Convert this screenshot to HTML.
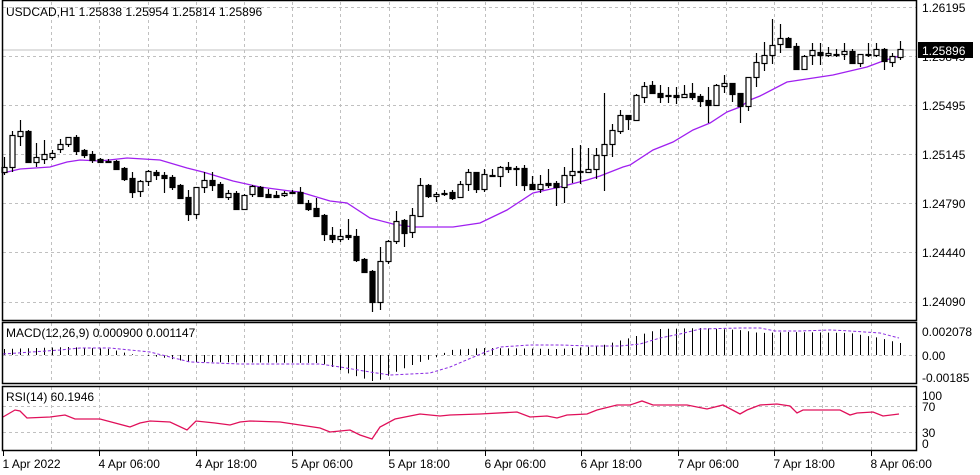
<!DOCTYPE html>
<html><head><meta charset="utf-8"><style>
html,body{margin:0;padding:0;background:#fff;width:980px;height:475px;overflow:hidden}
svg{display:block;font-family:"Liberation Sans",sans-serif}
</style></head><body>
<svg id="s" width="980" height="475" xmlns="http://www.w3.org/2000/svg">
<rect width="980" height="475" fill="#fff"/>
<g id="grid" stroke="#c0c0c0" stroke-dasharray="3,3" stroke-width="1"></g>
<line x1="3" y1="50" x2="916" y2="50" stroke="#c0c0c0"/>
<g id="hist" stroke="#000" stroke-width="1"></g>
<polyline id="sig" fill="none" stroke="#8a2be2" stroke-width="1" stroke-dasharray="3,2"/>
<polyline id="rsi" fill="none" stroke="#e0105a" stroke-width="1.3"/>
<polyline id="ma" fill="none" stroke="#a020f0" stroke-width="1.3"/>
<g id="c"></g>
<g fill="none" stroke="#000" stroke-width="1.5">
<rect x="2.5" y="0.5" width="914" height="320"/>
<rect x="2.5" y="322.5" width="914" height="61"/>
<rect x="2.5" y="386.5" width="914" height="64"/>
</g>
<g id="ticks" stroke="#000"></g>
<text x="6" y="16" font-size="12">USDCAD,H1  1.25838 1.25954 1.25814 1.25896</text>
<text x="6" y="337" font-size="12">MACD(12,26,9) 0.000900 0.001147</text>
<text x="6" y="401" font-size="12">RSI(14) 60.1946</text>
<g font-size="12" fill="#000">
<text x="922" y="12">1.26195</text>
<text x="922" y="61">1.25845</text>
<text x="922" y="110">1.25495</text>
<text x="922" y="159">1.25145</text>
<text x="922" y="208">1.24790</text>
<text x="922" y="257">1.24440</text>
<text x="922" y="306">1.24090</text>
<text x="922" y="336">0.002078</text>
<text x="922" y="360">0.00</text>
<text x="922" y="382">-0.00185</text>
<text x="922" y="400">100</text>
<text x="922" y="411">70</text>
<text x="922" y="437">30</text>
<text x="922" y="448">0</text>
</g>
<rect x="918" y="42" width="55" height="16" fill="#000"/>
<text x="922" y="55" font-size="12" fill="#fff">1.25896</text>
<g font-size="12" fill="#000" id="tl"></g>
</svg>
<script>
var NS="http://www.w3.org/2000/svg";
function el(p,t,a,txt){var e=document.createElementNS(NS,t);for(var k in a)e.setAttribute(k,a[k]);if(txt)e.textContent=txt;p.appendChild(e);return e;}
var g=document.getElementById('grid');
for(var k=1;k<=18;k++){var x=Math.round(3+48.2*k)+0.5;
 el(g,'line',{x1:x,y1:2,x2:x,y2:320});el(g,'line',{x1:x,y1:323,x2:x,y2:383});el(g,'line',{x1:x,y1:387,x2:x,y2:450});}
[7,56,105,154,203,252,302].forEach(function(y){el(g,'line',{x1:3,y1:y+0.5,x2:916,y2:y+0.5});});
[355,406,432].forEach(function(y){el(g,'line',{x1:3,y1:y+0.5,x2:916,y2:y+0.5});});
var tk=document.getElementById('ticks'),tl=document.getElementById('tl');
var labs=["1 Apr 2022","4 Apr 06:00","4 Apr 18:00","5 Apr 06:00","5 Apr 18:00","6 Apr 06:00","6 Apr 18:00","7 Apr 06:00","7 Apr 18:00","8 Apr 06:00"];
for(var i=0;i<10;i++){var x=Math.round(3+96.4*i)+0.5;el(tk,'line',{x1:x,y1:451,x2:x,y2:456});el(tl,'text',{x:x-1,y:468},labs[i]);}
function interp(pts,x){if(x<=pts[0][0])return pts[0][1];for(var i=1;i<pts.length;i++){if(x<=pts[i][0]){var a=pts[i-1],b=pts[i];return a[1]+(b[1]-a[1])*(x-a[0])/(b[0]-a[0]);}}return pts[pts.length-1][1];}
function pl(id,pts){document.getElementById(id).setAttribute('points',pts.map(function(p){return p[0]+','+p[1]}).join(' '));}
pl('ma',[[3,173],[20,169],[50,167],[67,162],[80,160],[100,161],[127,158],[160,160],[187,168],[203,172],[233,181],[260,187],[290,191],[300,192],[330,201],[347,203],[370,218],[393,224],[413,227],[453,227],[480,223],[507,210],[533,193],[560,187],[587,180],[600,176],[623,167],[630,165],[653,150],[673,142],[693,130],[710,123],[727,112],[740,107],[750,100],[760,96],[787,82],[833,75],[867,67],[883,61],[899,56]]);
pl('rsi',[[3,417],[15,410],[20,411],[27,418],[50,417],[65,415],[75,419],[100,419],[130,427],[140,423],[150,421],[170,422],[187,430],[196,421],[215,423],[230,425],[240,422],[250,421],[280,422],[300,425],[320,428],[330,432],[340,431],[350,430],[360,435],[372,439],[380,427],[395,419],[400,418],[420,414],[440,416],[450,415],[480,414],[517,412],[530,417],[547,416],[557,418],[567,415],[587,414],[597,410],[617,405],[630,405],[642,401],[653,405],[687,405],[707,409],[723,405],[740,414],[747,410],[760,405],[777,404],[790,406],[797,413],[803,410],[840,410],[850,415],[857,413],[873,412],[883,416],[899,414]]);
pl('sig',[[3,354],[60,350],[80,348],[110,348],[150,352],[190,362],[240,364],[320,364],[340,367],[370,372],[390,375],[430,373],[450,367],[483,353],[500,347],[530,345],[560,345],[590,346],[620,346],[640,344],[660,338],[680,334],[700,329],[740,328],[760,328],[775,331],[800,331],[830,330],[850,331],[880,333],[899,338]]);
var hp=[[4,349],[70,347],[110,349],[130,354],[160,357],[190,362],[320,363],[330,366],[350,374],[372,381],[380,380],[400,370],[420,362],[435,358],[450,350],[483,348],[560,349],[600,346],[630,338],[660,329],[700,328],[740,330],[760,333],[790,332],[850,333],[880,338],[899,343]];
var h=document.getElementById('hist');
for(var i=0;i<113;i++){var x=4+8*i+0.5,y=interp(hp,x);el(h,'line',{x1:x,y1:355,x2:x,y2:y});}
var D=[[167,172,157,175,0],[135,167,131,172,0],[131,136,120,146,0],[131,162,130,163,1],[157,162,143,167,0],[154,159,140,164,0],[153,157,150,160,0],[144,149,139,153,0],[137,144,137,147,0],[137,151,135,155,1],[150,155,149,158,1],[154,160,151,163,1],[159,162,158,163,1],[161,162,159,163,1],[161,169,160,169,1],[168,179,167,181,1],[178,192,172,198,1],[181,191,180,197,0],[171,181,170,186,0],[172,175,170,180,1],[175,178,172,193,1],[177,187,175,190,1],[185,198,184,198,1],[197,214,190,221,1],[187,214,187,219,0],[180,187,172,193,0],[180,185,172,191,1],[184,197,182,197,1],[193,197,190,200,0],[193,209,191,210,1],[195,209,194,210,0],[186,194,185,197,0],[187,196,186,197,1],[194,197,189,198,1],[195,197,191,198,1],[193,195,191,197,0],[192,193,190,194,1],[192,203,187,204,1],[203,209,200,211,1],[208,216,198,216,1],[215,234,214,241,1],[235,239,227,243,1],[236,239,229,242,0],[235,237,219,240,1],[236,260,229,262,1],[259,272,258,272,1],[271,302,270,312,1],[261,302,247,310,0],[241,261,240,264,0],[221,241,211,244,0],[220,233,219,247,1],[215,232,208,238,0],[185,216,178,216,0],[185,196,184,198,1],[194,196,192,202,0],[193,194,190,196,1],[192,198,190,200,1],[184,197,181,197,0],[172,184,169,191,0],[172,189,172,193,1],[174,189,169,192,0],[175,176,169,176,1],[167,176,166,187,0],[167,169,162,173,1],[168,169,166,186,0],[168,185,165,191,1],[184,189,176,190,1],[184,189,175,193,0],[183,185,169,188,1],[183,187,181,206,1],[175,187,167,203,0],[171,175,148,183,0],[171,172,145,184,1],[169,172,148,172,0],[155,169,148,179,0],[144,155,93,191,0],[130,144,124,157,0],[115,131,110,134,0],[115,119,115,130,1],[95,120,94,121,0],[86,97,82,103,0],[85,93,81,94,1],[93,97,85,103,1],[95,96,87,103,1],[95,97,87,104,1],[94,97,85,98,0],[93,97,83,100,1],[96,101,94,107,1],[100,105,87,123,1],[85,105,84,106,0],[83,86,75,93,0],[83,94,83,102,1],[93,106,93,123,1],[77,106,77,111,0],[62,77,53,87,0],[55,63,42,71,0],[45,55,19,64,0],[38,44,24,53,0],[38,47,37,47,1],[46,69,43,69,1],[56,69,55,70,0],[50,55,43,65,0],[52,55,43,65,1],[53,55,47,57,0],[54,54,49,57,1],[51,54,43,60,0],[51,63,49,63,1],[54,63,54,67,0],[54,55,43,57,1],[49,55,43,57,0],[49,61,48,70,1],[56,62,53,67,0],[49,57,41,60,0]];
var c=document.getElementById('c');
D.forEach(function(d,i){var x=4+8*i;
 el(c,'line',{x1:x+0.5,y1:d[2],x2:x+0.5,y2:d[3],stroke:'#000','stroke-width':1.2});
 var hgt=Math.max(d[1]-d[0],1);
 el(c,'rect',{x:x-2,y:d[0]+0.5,width:5,height:hgt,fill:d[4]?'#000':'#fff',stroke:'#000','stroke-width':1.2});
});
</script>
</body></html>
